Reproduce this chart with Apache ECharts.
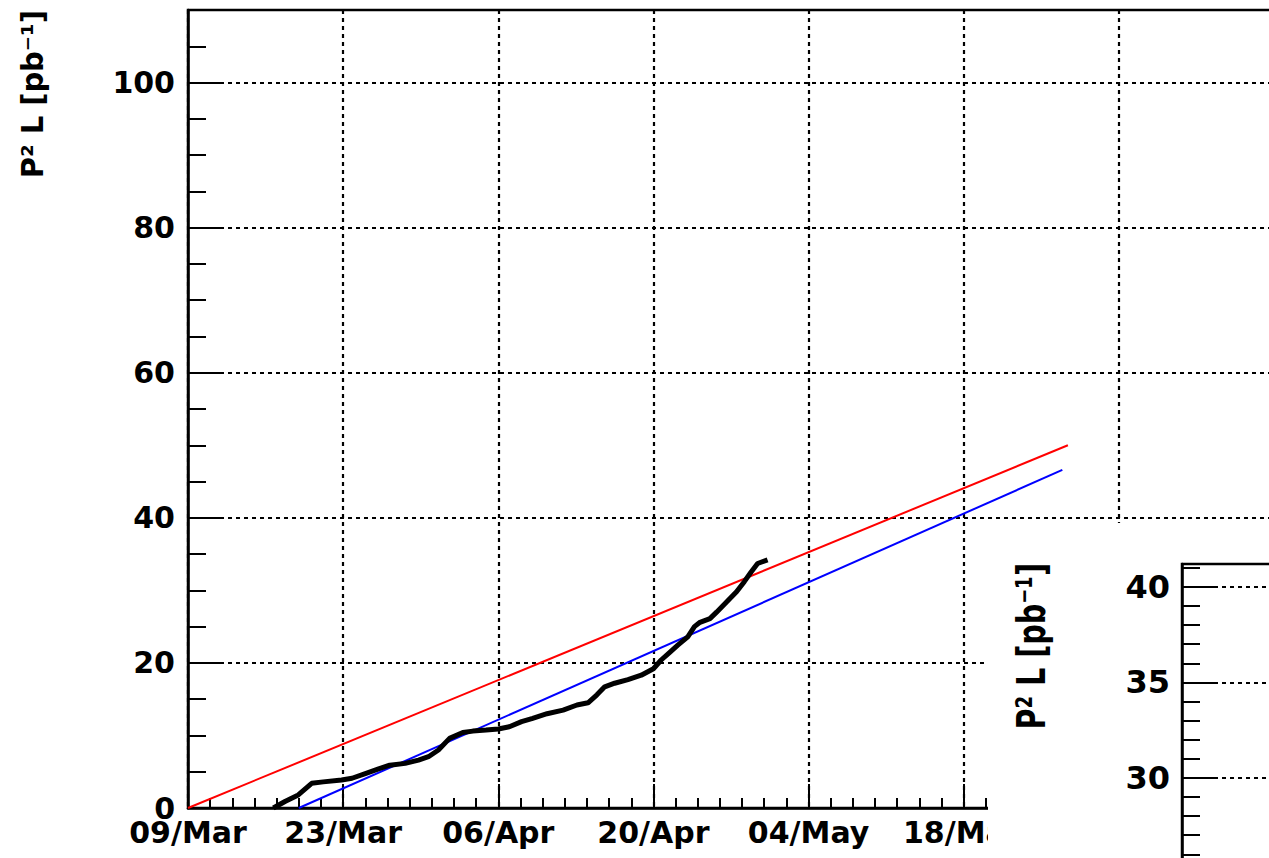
<!DOCTYPE html>
<html><head><meta charset="utf-8">
<script src="https://cdn.jsdelivr.net/npm/echarts@6/dist/echarts.min.js"></script>
<style>html,body{margin:0;padding:0;background:#fff;overflow:hidden}#c{width:1269px;height:858px}</style>
</head><body><div id="c"></div>
<script>
// ---- data (x = days since 09/Mar) ----
const xTickLabels = ['09/Mar','23/Mar','06/Apr','20/Apr','04/May','18/May'];
const yTickLabels = ['0','20','40','60','80','100'];
const insetYTickLabels = ['30','35','40'];
const axisTitle = 'P² L [pb⁻¹]';

const measuredDays = [7.7, 8.75, 9.95, 11.16, 12.2, 13.86, 14.8, 16.0, 17.2, 18.2, 19.6, 20.8, 21.7, 22.6, 23.6, 24.8, 25.7, 26.9, 28.0, 29.0, 30.1, 31.1, 32.4, 33.85, 35.1, 36.1, 36.9, 37.6, 38.5, 39.7, 40.9, 42.0, 42.7, 43.5, 44.2, 45.1, 45.7, 46.2, 47.1, 47.7, 48.6, 49.5, 50.2, 50.8, 51.4, 52.3];
const measuredP2L = [0, 0.9, 1.8, 3.4, 3.6, 3.86, 4.1, 4.75, 5.4, 5.9, 6.15, 6.6, 7.07, 8.0, 9.6, 10.4, 10.6, 10.74, 10.9, 11.2, 11.9, 12.36, 13.0, 13.5, 14.2, 14.5, 15.6, 16.7, 17.2, 17.7, 18.3, 19.2, 20.4, 21.5, 22.45, 23.6, 25.0, 25.6, 26.1, 27.0, 28.4, 29.8, 31.2, 32.5, 33.7, 34.2];

const redDays = [0, 79.4];
const redP2L = [0, 50.0];
const blueDays = [10.0, 78.9];
const blueP2L = [0, 46.6];

// ---- styles ----
const FONT = 'DejaVu Sans';
const lbl = {fontFamily: FONT, fontWeight: 'bold', fontSize: 30, color: '#000'};
const black = {color: '#000', width: 2.5};
const tickLine = {color: '#000', width: 2};
const gridLine = {show: true, lineStyle: {color: '#000', width: 2.2, type: [4, 4]}};
const pairs = (xs, ys) => xs.map((x, i) => [x, ys[i]]);
const titleText = (x, y, sx, sy) => ({type: 'text', z: 20, x: x, y: y, rotation: Math.PI / 2, scaleX: sx, scaleY: sy,
  style: {text: axisTitle, fill: '#000', font: 'bold 30px "DejaVu Sans"', align: 'right', verticalAlign: 'middle'}});

const chart = echarts.init(document.getElementById('c'), null, {renderer: 'svg'});
chart.setOption({
  animation: false,
  backgroundColor: '#fff',
  grid: [
    {left: 188, top: 10, width: 1086, height: 798, show: true, borderColor: '#000', borderWidth: 2.5, z: 0,
      outerBoundsMode: 'none', containLabel: false},
    {left: 1182, top: 564, width: 400, height: 309.4, show: true, borderColor: '#000', borderWidth: 2.5, z: 10,
      outerBoundsMode: 'none', containLabel: false}
  ],
  xAxis: [
    {type: 'value', gridIndex: 0, min: 0, max: 98, interval: 14,
      axisLine: {show: true, onZero: false, lineStyle: black},
      axisTick: {show: true, inside: true, length: 24, lineStyle: tickLine},
      minorTick: {show: true, splitNumber: 7, length: 10, lineStyle: tickLine},
      axisLabel: Object.assign({}, lbl, {margin: 9, formatter: v => xTickLabels[Math.round(v / 14)] || ''}),
      splitLine: gridLine},
    {type: 'value', gridIndex: 1, min: 0, max: 98, interval: 14, z: 10,
      axisLine: {show: true, onZero: false, lineStyle: black},
      axisTick: {show: false}, axisLabel: {show: false}, splitLine: {show: false}}
  ],
  yAxis: [
    {type: 'value', gridIndex: 0, position: 'left', min: 0, max: 110, interval: 20,
      axisLine: {show: true, onZero: false, lineStyle: black},
      axisTick: {show: true, inside: true, length: 36, lineStyle: tickLine},
      axisLabel: Object.assign({}, lbl, {margin: 13, formatter: v => (v % 20 === 0 && yTickLabels[v / 20]) || ''}),
      splitLine: gridLine},
    {type: 'value', gridIndex: 0, position: 'left', min: 0, max: 110, interval: 5,
      axisLine: {show: false}, axisLabel: {show: false}, splitLine: {show: false},
      axisTick: {show: true, inside: true, length: 18, lineStyle: tickLine}},
    {type: 'value', gridIndex: 1, position: 'left', min: 25, max: 41.2, interval: 5, z: 10,
      axisLine: {show: true, onZero: false, lineStyle: black},
      axisTick: {show: true, inside: true, length: 35, lineStyle: tickLine},
      axisLabel: Object.assign({}, lbl, {fontSize: 32, margin: 12, formatter: v => insetYTickLabels[(v - 30) / 5] || ''}),
      splitLine: gridLine},
    {type: 'value', gridIndex: 1, position: 'left', min: 25, max: 41.2, interval: 1, z: 10,
      axisLine: {show: false}, axisLabel: {show: false}, splitLine: {show: false},
      axisTick: {show: true, inside: true, length: 18, lineStyle: tickLine}}
  ],
  graphic: [
    {type: 'rect', z: 5, shape: {x: 988, y: 523, width: 400, height: 400}, style: {fill: '#fff'}},
    titleText(33, 10, 0.965, 1.0),
    titleText(1031, 563, 0.955, 1.33)
  ],
  series: [
    {type: 'line', xAxisIndex: 0, yAxisIndex: 0, data: pairs(redDays, redP2L), showSymbol: false,
      lineStyle: {color: '#ff0000', width: 2}, z: 2, silent: true},
    {type: 'line', xAxisIndex: 0, yAxisIndex: 0, data: pairs(blueDays, blueP2L), showSymbol: false,
      lineStyle: {color: '#0000ff', width: 2}, z: 2, silent: true},
    {type: 'line', xAxisIndex: 0, yAxisIndex: 0, data: pairs(measuredDays, measuredP2L), showSymbol: false,
      lineStyle: {color: '#000', width: 5}, z: 3, silent: true}
  ]
});
</script></body></html>
